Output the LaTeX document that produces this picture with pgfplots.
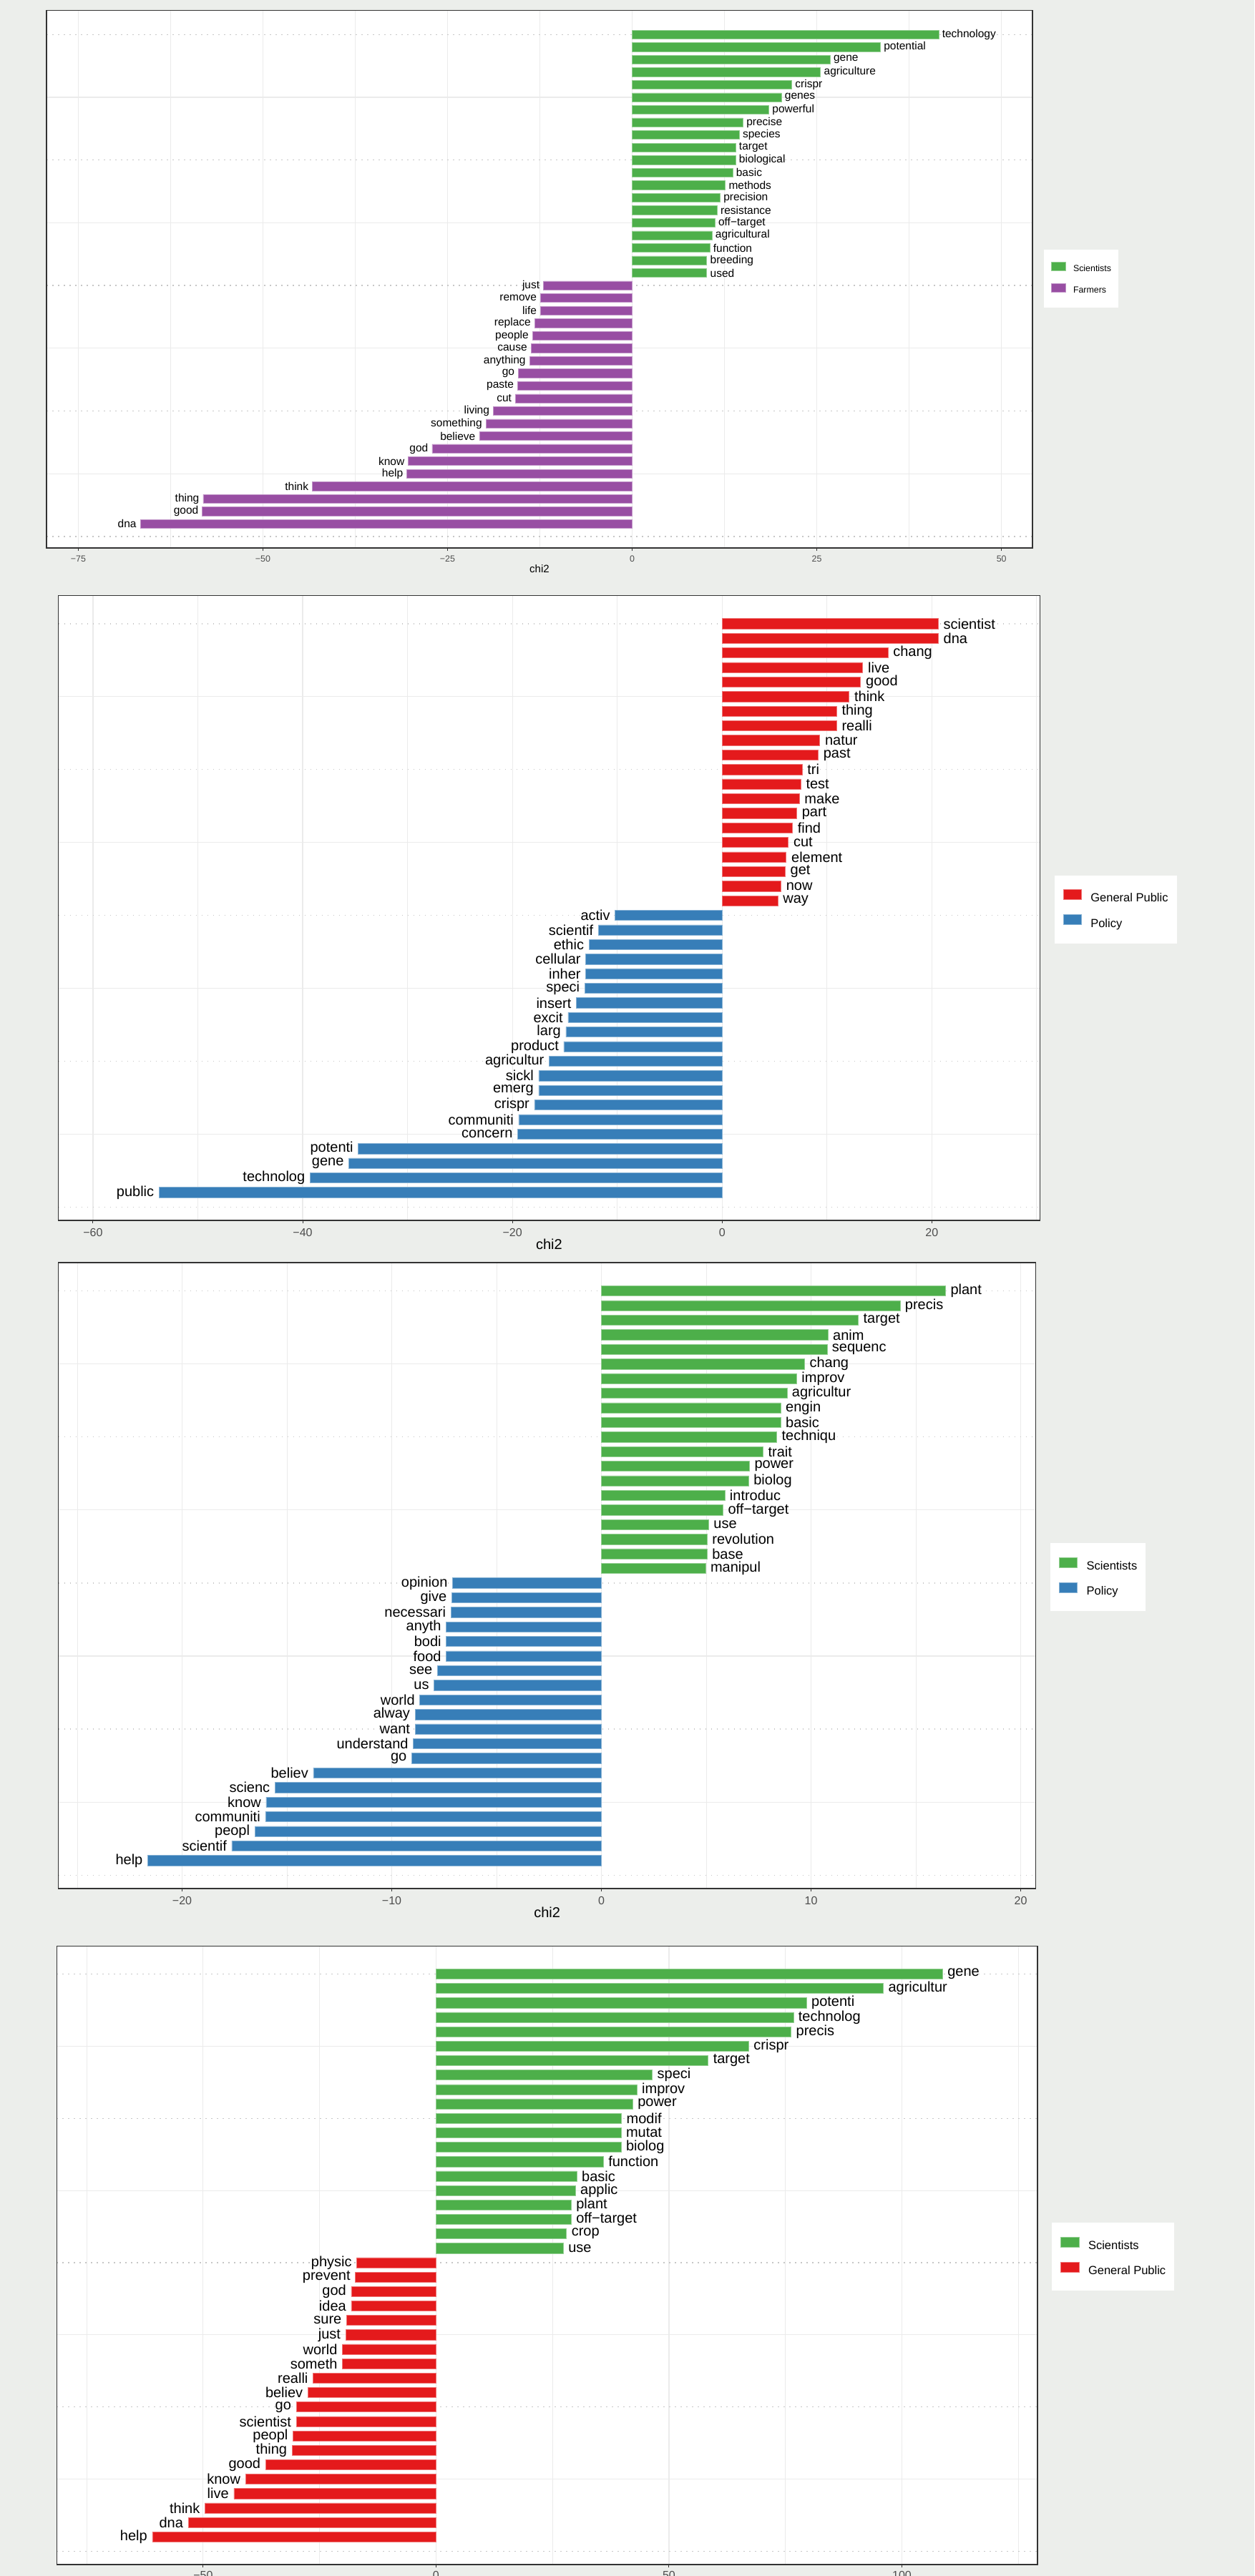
\documentclass[border=0pt]{standalone}
\usepackage{pgfplots}
\pgfplotsset{compat=1.18}
\usepackage{pgfplotstable}
\usepackage{fontspec}
\setmainfont{Liberation Sans}
\definecolor{bgc}{RGB}{236,238,235}
\definecolor{csci}{HTML}{4DAF4A}
\definecolor{cfarm}{HTML}{984EA3}
\definecolor{cgp}{HTML}{E41A1C}
\definecolor{cpol}{HTML}{377EB8}
\definecolor{gridc}{HTML}{EBEBEB}
\definecolor{framec}{HTML}{333333}
\definecolor{tickc}{HTML}{4D4D4D}

% ---------------- Panel 1 ----------------
\pgfplotstableread{
x y label
41.5 40 technology
33.6 39 potential
26.8 38 gene
25.5 37 agriculture
21.6 36 crispr
20.2 35 genes
18.5 34 powerful
15.0 33 precise
14.5 32 species
14.0 31 target
14.0 30 biological
13.6 29 basic
12.6 28 methods
11.9 27 precision
11.5 26 resistance
11.2 25 off−target
10.8 24 agricultural
10.5 23 function
10.1 22 breeding
10.1 21 used
}\pAsci
\pgfplotstableread{
x y label
-12.0 20 just
-12.4 19 remove
-12.4 18 life
-13.2 17 replace
-13.5 16 people
-13.7 15 cause
-13.9 14 anything
-15.4 13 go
-15.5 12 paste
-15.8 11 cut
-18.8 10 living
-19.8 9 something
-20.7 8 believe
-27.1 7 god
-30.3 6 know
-30.5 5 help
-43.3 4 think
-58.1 3 thing
-58.2 2 good
-66.6 1 dna
}\pAfarm
% ---------------- Panel 2 ----------------
\pgfplotstableread{
x y label
20.6 40 scientist
20.6 39 dna
15.8 38 chang
13.4 37 live
13.2 36 good
12.1 35 think
10.9 34 thing
10.9 33 realli
9.3 32 natur
9.15 31 past
7.62 30 tri
7.49 29 test
7.35 28 make
7.10 27 part
6.69 26 find
6.30 25 cut
6.1 24 element
6.0 23 get
5.6 22 now
5.3 21 way
}\pBgp
\pgfplotstableread{
x y label
-10.2 20 activ
-11.8 19 scientif
-12.7 18 ethic
-13.0 17 cellular
-13.0 16 inher
-13.1 15 speci
-13.9 14 insert
-14.7 13 excit
-14.9 12 larg
-15.1 11 product
-16.5 10 agricultur
-17.5 9 sickl
-17.5 8 emerg
-17.9 7 crispr
-19.4 6 communiti
-19.5 5 concern
-34.7 4 potenti
-35.6 3 gene
-39.3 2 technolog
-53.7 1 public
}\pBpol
% ---------------- Panel 3 ----------------
\pgfplotstableread{
x y label
16.41 40 plant
14.24 39 precis
12.25 38 target
10.80 37 anim
10.76 36 sequenc
9.69 35 chang
9.31 34 improv
8.85 33 agricultur
8.55 32 engin
8.55 31 basic
8.36 30 techniqu
7.71 29 trait
7.06 28 power
7.02 27 biolog
5.88 26 introduc
5.80 25 off−target
5.11 24 use
5.04 23 revolution
5.04 22 base
4.96 21 manipul
}\pCsci
\pgfplotstableread{
x y label
-7.10 20 opinion
-7.14 19 give
-7.18 18 necessari
-7.40 17 anyth
-7.40 16 bodi
-7.40 15 food
-7.82 14 see
-7.98 13 us
-8.66 12 world
-8.89 11 alway
-8.89 10 want
-8.97 9 understand
-9.05 8 go
-13.74 7 believ
-15.57 6 scienc
-15.99 5 know
-16.03 4 communiti
-16.53 3 peopl
-17.63 2 scientif
-21.64 1 help
}\pCpol
% ---------------- Panel 4 ----------------
\pgfplotstableread{
x y label
108.7 40 gene
96.0 39 agricultur
79.5 38 potenti
76.7 37 technolog
76.2 36 precis
67.1 35 crispr
58.4 34 target
46.4 33 speci
43.1 32 improv
42.2 31 power
39.8 30 modif
39.7 29 mutat
39.7 28 biolog
35.9 27 function
30.2 26 basic
29.9 25 applic
29.0 24 plant
29.0 23 off−target
28.0 22 crop
27.3 21 use
}\pDsci
\pgfplotstableread{
x y label
-17.0 20 physic
-17.3 19 prevent
-18.2 18 god
-18.2 17 idea
-19.2 16 sure
-19.4 15 just
-20.1 14 world
-20.1 13 someth
-26.4 12 realli
-27.5 11 believ
-30.0 10 go
-30.0 9 scientist
-30.7 8 peopl
-30.9 7 thing
-36.6 6 good
-40.9 5 know
-43.4 4 live
-49.6 3 think
-53.2 2 dna
-60.9 1 help
}\pDgp

\pgfplotsset{
  % background axis: white panel, solid grid lines
  gridax/.style={
    scale only axis, anchor=north west,
    axis background/.style={fill=white},
    ymin=-0.92, ymax=41.94, ytick={5,15,25,35},
    xmajorgrids, xminorgrids, ymajorgrids,
    major grid style={gridc, line width=0.6pt},
    minor grid style={gridc, line width=0.45pt},
    xticklabels={}, yticklabels={},
    major tick length=0pt, minor tick length=0pt,
    axis line style={draw=none},
  },
  % foreground axis: dotted grid, frame, ticks, data
  chi/.style={
    scale only axis, anchor=north west,
    ymin=-0.92, ymax=41.94,
    ytick={0,10,20,30,40}, yticklabels={},
    ytick style={draw=none},
    ymajorgrids,
    major grid style={black!22, line width=0.7pt, dash pattern=on 0.9pt off 3.1pt},
    major tick length=2pt, tick align=outside,
    xtick pos=left,
    x tick style={framec, line width=0.5pt},
    axis line style={framec, line width=0.6pt},
    xlabel={chi2},
    legend cell align=left,
    legend style={draw=none, fill=white, at={(1,0.5)}, anchor=west,
      nodes={inner sep=0pt}},
  },
  posbar/.style 2 args={xbar, bar shift=0pt, bar width=0.7,
    fill=#1, draw=#1!60!white, line width=0.3pt,
    nodes near coords, point meta=explicit symbolic,
    nodes near coords style={anchor=west, text=black, inner ysep=0pt, inner xsep=#2}},
  negbar/.style 2 args={xbar, bar shift=0pt, bar width=0.7,
    fill=#1, draw=#1!60!white, line width=0.3pt,
    nodes near coords, point meta=explicit symbolic,
    nodes near coords style={anchor=east, text=black, inner ysep=0pt, inner xsep=#2}},
  keyS/.style={legend image code/.code={\fill[##1] (0pt,-0.77pt) rectangle (10pt,5.23pt);}},
  keyL/.style={legend image code/.code={\fill[##1] (0pt,-0.53pt) rectangle (12.6pt,6.47pt);}},
  bigpanel/.style={
    xticklabel style={font=\fontsize{8}{9.6}\selectfont, text=tickc},
    every axis x label/.style={at={(axis description cs:0.5,0)}, anchor=center, yshift=-16.5pt, font=\fontsize{10}{12}\selectfont},
    nodes near coords style={font=\fontsize{10}{12}\selectfont},
    legend style={font=\fontsize{8.25}{9.9}\selectfont, xshift=10pt, yshift=-1pt,
      inner xsep=6pt, inner ysep=9.7pt, row sep=7.25pt,
      /tikz/every odd column/.append style={column sep=6.4pt}},
  },
}

\begin{document}
\begin{tikzpicture}
\path[use as bounding box, fill=bgc] (0pt,0pt) rectangle (876.5pt,-1800.5pt);

% ===== Panel 1 =====
\begin{axis}[gridax, at={(32.5pt,-7.15pt)}, width=689pt, height=375.85pt,
  xmin=-79.3, xmax=54.2,
  xtick={-75,-50,-25,0,25,50}, minor xtick={-62.5,-37.5,-12.5,12.5,37.5}]
\end{axis}
\begin{axis}[chi, at={(32.5pt,-7.15pt)}, width=689pt, height=375.85pt,
  xmin=-79.3, xmax=54.2,
  xtick={-75,-50,-25,0,25,50}, xticklabels={−75,−50,−25,0,25,50},
  xticklabel style={font=\fontsize{6.2}{7.4}\selectfont, text=tickc},
  every axis x label/.style={at={(axis description cs:0.5,0)}, anchor=center, yshift=-14.5pt, font=\fontsize{7.5}{9}\selectfont},
  nodes near coords style={font=\fontsize{7.75}{9.3}\selectfont},
  legend style={font=\fontsize{6.2}{7.4}\selectfont, xshift=8pt, yshift=0.5pt,
    inner xsep=5pt, inner ysep=8.75pt, row sep=6.35pt,
    /tikz/every odd column/.append style={column sep=5pt}},
]
\addplot[posbar={csci}{2.3pt}, keyS] table[x=x, y=y, meta=label] {\pAsci};
\addlegendentry{Scientists}
\addplot[negbar={cfarm}{2.6pt}, keyS] table[x=x, y=y, meta=label] {\pAfarm};
\addlegendentry{Farmers}
\end{axis}

% ===== Panel 2 =====
\begin{axis}[gridax, at={(40.8pt,-416.15pt)}, width=685.85pt, height=436.85pt,
  xmin=-63.3, xmax=30.3,
  xtick={-60,-40,-20,0,20}, minor xtick={-50,-30,-10,10,30}]
\end{axis}
\begin{axis}[chi, bigpanel, at={(40.8pt,-416.15pt)}, width=685.85pt, height=436.85pt,
  xmin=-63.3, xmax=30.3,
  xtick={-60,-40,-20,0,20}, xticklabels={−60,−40,−20,0,20},
]
\addplot[posbar={cgp}{3.6pt}, keyL] table[x=x, y=y, meta=label] {\pBgp};
\addlegendentry{General Public}
\addplot[negbar={cpol}{3.4pt}, keyL] table[x=x, y=y, meta=label] {\pBpol};
\addlegendentry{Policy}
\end{axis}

% ===== Panel 3 =====
\begin{axis}[gridax, at={(40.8pt,-882.5pt)}, width=683.05pt, height=437.5pt,
  xmin=-25.9, xmax=20.72,
  xtick={-20,-10,0,10,20}, minor xtick={-25,-15,-5,5,15}]
\end{axis}
\begin{axis}[chi, bigpanel, at={(40.8pt,-882.5pt)}, width=683.05pt, height=437.5pt,
  xmin=-25.9, xmax=20.72,
  xtick={-20,-10,0,10,20}, xticklabels={−20,−10,0,10,20},
]
\addplot[posbar={csci}{3.4pt}, keyL] table[x=x, y=y, meta=label] {\pCsci};
\addlegendentry{Scientists}
\addplot[negbar={cpol}{3.4pt}, keyL] table[x=x, y=y, meta=label] {\pCpol};
\addlegendentry{Policy}
\end{axis}

% ===== Panel 4 =====
\begin{axis}[gridax, at={(39.7pt,-1360.15pt)}, width=685.3pt, height=432.35pt,
  xmin=-81.4, xmax=129.1,
  xtick={-50,0,50,100}, minor xtick={-75,-25,25,75,125}]
\end{axis}
\begin{axis}[chi, bigpanel, at={(39.7pt,-1360.15pt)}, width=685.3pt, height=432.35pt,
  xmin=-81.4, xmax=129.1,
  xtick={-50,0,50,100}, xticklabels={−50,0,50,100},
  xticklabel style={yshift=1pt},
]
\addplot[posbar={csci}{3.4pt}, keyL] table[x=x, y=y, meta=label] {\pDsci};
\addlegendentry{Scientists}
\addplot[negbar={cgp}{3.4pt}, keyL] table[x=x, y=y, meta=label] {\pDgp};
\addlegendentry{General Public}
\end{axis}
\end{tikzpicture}
\end{document}
